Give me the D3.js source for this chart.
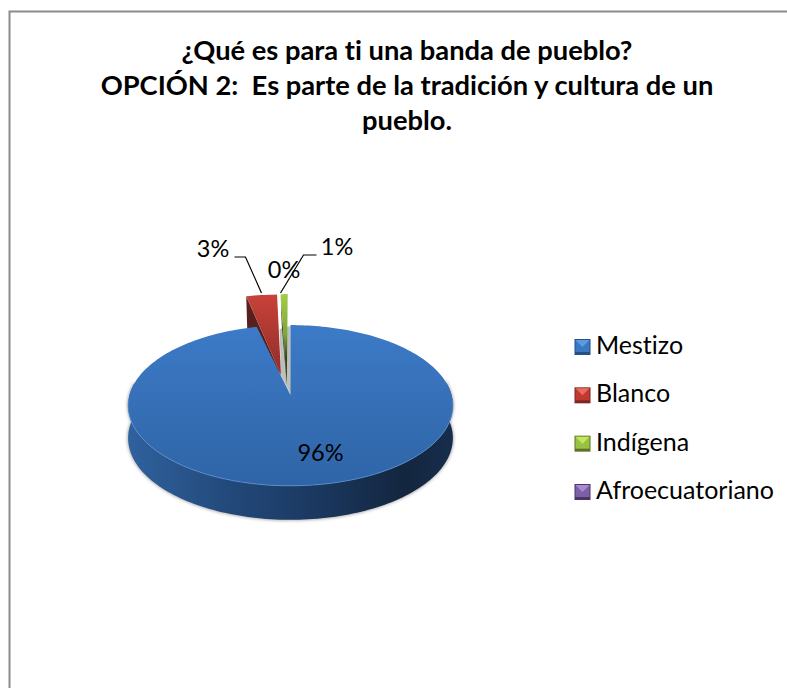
<!DOCTYPE html>
<html><head><meta charset="utf-8">
<script src="https://cdn.jsdelivr.net/npm/d3@7"></script>
<style>html,body{margin:0;padding:0;background:#fff}svg{display:block}text{font-family:Lato,"Open Sans",sans-serif;fill:#000;font-variant-ligatures:none}</style>
</head><body><svg id="c" width="787" height="688"></svg>
<script>
const titleLines = ["¿Qué es para ti una banda de pueblo?", "OPCIÓN 2:  Es parte de la tradición y cultura de un", "pueblo."];
const categories = ["Mestizo", "Blanco", "Indígena", "Afroecuatoriano"];
const values = [96, 3, 0.6, 0.2];
const faceColors = ["#3a78c4", "#c0392f", "#98c23f", "#7d5fa8"];
const legendDark = ["#254f85", "#7c2722", "#5d7428", "#4a3566"];
const legendLight = ["#5b9be0", "#ea6a62", "#c4e462", "#a98ad2"];

const svg = d3.select("#c"), defs = svg.append("defs");
const W = 787, H = 688;

// Frame
svg.append("path").attr("d", `M9.5,${H}V11.5H${W}`).attr("fill", "none").attr("stroke", "#8c8c8c").attr("stroke-width", 2);

// Title
svg.append("g").selectAll("text").data(titleLines).join("text")
  .attr("x", 407).attr("y", (d, i) => 60 + i * 35)
  .attr("text-anchor", "middle").attr("font-weight", 700).attr("font-size", 27.3)
  .style("white-space", "pre").text(d => d);

// Perspective projection of the pie plane
const cx = 290.5, cy = 395, persp = 0.13, ax = 161, ay = 79;
const project = (theta, r = 1) => {
  const u = r * Math.sin(theta), v = -r * Math.cos(theta), w = 1 - persp * v;
  return { x: ax * u / w, y: ay * v / w, v };
};
const wallDepth = v => 31 + 3 * (v + 1) / 2;

const pie = d3.pie().sort(null).value(d => d)(values);
const fmt = d3.format(".0%"), total = d3.sum(values);
const deg = Math.PI / 180;

// Gradients
const grad = (id, dir, stops) => {
  const g = defs.append("linearGradient").attr("id", id)
    .attr("x1", 0).attr("y1", 0).attr("x2", dir === "h" ? 1 : 0).attr("y2", dir === "h" ? 0 : 1);
  stops.forEach(([o, c]) => g.append("stop").attr("offset", o).attr("stop-color", c));
};
grad("blueTop", "v", [[0, "#3c7bc8"], [0.5, "#366fb6"], [1, "#2f65a7"]]);
grad("blueWall", "h", [[0, "#2f619d"], [0.3, "#234a7c"], [0.55, "#1b3a63"], [0.85, "#13263f"], [1, "#172d4d"]]);
grad("redTop", "v", [[0, "#c8423a"], [1, "#8f2d29"]]);
grad("greenTop", "v", [[0, "#a4cc48"], [0.45, "#7fa538"], [0.7, "#34451b"], [1, "#2c3a18"]]);
defs.append("filter").attr("id", "soft").attr("x", "-10%").attr("y", "-10%").attr("width", "120%").attr("height", "120%")
  .append("feGaussianBlur").attr("stdDeviation", 1.6);
defs.append("filter").attr("id", "tiny").append("feGaussianBlur").attr("stdDeviation", 0.4);

// Mestizo slice
const blue = pie[0];
const thetas = d3.range(0, 241).map(i => blue.startAngle + (blue.endAngle - blue.startAngle) * i / 240);
const rimPts = thetas.map(t => project(t));
const topLine = d3.line().x(p => cx + p.x).y(p => cy + p.y);
const frontPts = rimPts.filter(p => p.v > -0.16);
const wallPts = frontPts.concat(frontPts.slice().reverse().map(p => ({ x: p.x, y: p.y + wallDepth(p.v), v: p.v })));
const g = svg.append("g");

// soft shadow around the wall, then the wall
g.append("path").attr("d", topLine(wallPts) + "Z").attr("fill", "#b4b4b4")
  .attr("stroke", "#b4b4b4").attr("stroke-width", 2).attr("filter", "url(#soft)");
g.append("path").attr("d", topLine(wallPts) + "Z").attr("fill", "url(#blueWall)");

// Cut-away wall inside the notch
g.append("path")
  .attr("d", topLine([{x: -11, y: -66}, {x: 0, y: -69}, {x: 0.4, y: 0}, {x: -9.5, y: -20}]) + "Z")
  .attr("fill", "#bdbfbb").attr("filter", "url(#tiny)");

// Exploded slices: apex offset, radial scale, angular spin
const explodeDx = [0, -9.5, -3.7], explodeDy = [0, -20, -10], explodeScale = [1, 1.15, 1.3], spinDeg = [0, 1.5, 1];
const wallFill = [null, "#57201d", "#33421a"], wallLen = [0, 34, 30];
const sliceGeom = i => {
  const s = pie[i], ox = cx + explodeDx[i], oy = cy + explodeDy[i], k = explodeScale[i];
  const arc = d3.range(0, 9).map(j => {
    const p = project(s.startAngle + (s.endAngle - s.startAngle) * j / 8 + spinDeg[i] * deg);
    return [ox + p.x * k, oy + p.y * k];
  });
  return { arc, apex: [ox, oy] };
};

// exploded slice walls go behind the blue top face
[2, 1].forEach(i => {
  const { arc, apex } = sliceGeom(i), left = arc[0];
  g.append("path").attr("d", d3.line()([left, [left[0] + 1, left[1] + wallLen[i]], apex]) + "Z").attr("fill", wallFill[i]);
});

// Blue top face
g.append("path").attr("d", topLine(rimPts.concat([{ x: 0, y: 0 }])) + "Z").attr("fill", "url(#blueTop)");
// rim highlight on the front edge
g.append("path").attr("d", topLine(frontPts.filter(p => p.v > 0.05))).attr("fill", "none")
  .attr("stroke", "#5a93d6").attr("stroke-width", 1).attr("opacity", 0.75);

// exploded slice top faces
[2, 1].forEach(i => {
  const { arc, apex } = sliceGeom(i);
  g.append("path").attr("d", d3.line()(arc.concat([apex])) + "Z").attr("fill", i === 1 ? "url(#redTop)" : "url(#greenTop)");
});

// Data labels: offsets relative to the pie centre
const labelOrder = [0, 1, 3, 2];
const labelDx = [30, -77.5, -6.5, 46.5], labelDy = [66, -138, -117, -140];
svg.append("g").selectAll("text").data(labelOrder).join("text")
  .attr("x", (d, i) => cx + labelDx[i])
  .attr("y", (d, i) => cy + labelDy[i])
  .attr("text-anchor", "middle").attr("font-size", 23.5)
  .text(d => fmt(values[d] / total));

// Leader lines
const leader = d3.line();
svg.append("path").attr("fill", "none").attr("stroke", "#000").attr("stroke-width", 1.2)
  .attr("d", leader([[cx - 56, cy - 138], [cx - 45, cy - 138], [cx - 29, cy - 102]]));
svg.append("path").attr("fill", "none").attr("stroke", "#000").attr("stroke-width", 1.2)
  .attr("d", leader([[cx + 26, cy - 140], [cx + 13, cy - 140], [cx - 10, cy - 102]]));

// Legend
const legendY = d3.scalePoint().domain(categories).range([347, 492]);
const lg = svg.append("g").selectAll("g").data(categories).join("g")
  .attr("transform", d => `translate(0,${legendY(d)})`);
const sx = 574.5, sz = 16;
lg.each(function (d, i) {
  const n = d3.select(this);
  n.append("rect").attr("x", sx).attr("y", -8).attr("width", sz).attr("height", sz).attr("fill", legendDark[i]);
  n.append("rect").attr("x", sx + 1).attr("y", -7).attr("width", sz - 2).attr("height", sz - 4).attr("fill", faceColors[i]);
  n.append("path").attr("d", d3.line()([[sx + 1, -7], [sx + sz - 1, -7], [sx + sz / 2, 0]]) + "Z").attr("fill", legendLight[i]);
});
lg.append("text").attr("x", 596).attr("y", 7).attr("font-size", 25).text(d => d);
</script></body></html>
